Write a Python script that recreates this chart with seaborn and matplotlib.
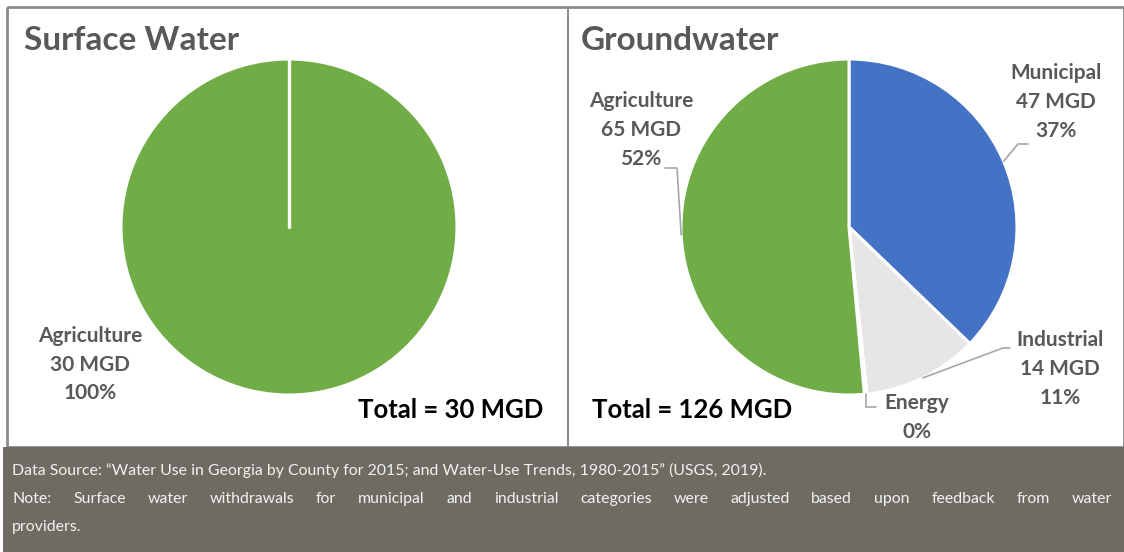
import matplotlib
matplotlib.use("Agg")
import matplotlib.pyplot as plt
import seaborn as sns
import numpy as np

sns.set_theme(style="white")
plt.rcParams['font.family'] = ['Lato', 'DejaVu Sans']

# ---------------- data ----------------
surface_categories = ["Agriculture"]
surface_values = [30]
surface_pct_labels = ["100%"]

ground_categories = ["Municipal", "Industrial", "Energy", "Agriculture"]
ground_values = [47, 14, 0.3, 65]
ground_mgd_labels = ["47 MGD", "14 MGD", None, "65 MGD"]
ground_pct_labels = ["37%", "11%", "0%", "52%"]

colors = {"Agriculture": "#70ad47", "Municipal": "#4472c4",
          "Industrial": "#e7e6e6", "Energy": "#a5a5a5"}

titles = ["Surface Water", "Groundwater"]
totals = ["Total = 30 MGD", "Total = 126 MGD"]
source_line = ("Data Source: \u201cWater Use in Georgia by County for 2015; and "
               "Water-Use Trends, 1980-2015\u201d (USGS, 2019).")
note_line = ("Note: Surface water withdrawals for municipal and industrial "
             "categories were adjusted based upon feedback from water")
note_line2 = "providers."

# ---------------- layout ----------------
W, H = 1124, 552
DPI = 100
fig = plt.figure(figsize=(W / DPI, H / DPI), dpi=DPI)
fig.patch.set_facecolor("white")

R = 168
centers = [(289, 227), (849, 227)]
START = 90


def pie_axes(cx, cy):
    ax = fig.add_axes([(cx - R) / W, (H - cy - R) / H, 2 * R / W, 2 * R / H])
    ax.set_axis_off()
    return ax


# surface pie
ax1 = pie_axes(*centers[0])
ax1.pie(surface_values, colors=[colors[c] for c in surface_categories],
        startangle=START, counterclock=False, radius=1,
        wedgeprops=dict(edgecolor="white", linewidth=2.2))
a0 = np.deg2rad(START)
ax1.plot([0, np.cos(a0)], [0, np.sin(a0)], color="white", lw=2.4, solid_capstyle="round")
ax1.set_xlim(-1, 1); ax1.set_ylim(-1, 1)

# groundwater pie
ax2 = pie_axes(*centers[1])
ax2.pie(ground_values, colors=[colors[c] for c in ground_categories],
        startangle=START, counterclock=False, radius=1,
        wedgeprops=dict(edgecolor="white", linewidth=2.2))
ax2.set_xlim(-1, 1); ax2.set_ylim(-1, 1)

# overlay in pixel coordinates
ov = fig.add_axes([0, 0, 1, 1], zorder=5)
ov.set_xlim(0, W); ov.set_ylim(H, 0)
ov.set_axis_off()
ov.patch.set_alpha(0)

border_c = "#8c8c8c"
ov.plot([7, W, W, 7, 7], [7, 7, 447, 447, 7], color=border_c, lw=2, solid_capstyle="butt")
ov.plot([568, 568], [7, 447], color=border_c, lw=1.5)

ov.add_patch(plt.Rectangle((3, 447), W - 3, H - 447, facecolor="#6e6b63",
                           edgecolor="none", zorder=2))

title_c = "#595959"
ov.text(24, 40, titles[0], fontsize=24, fontweight="bold", color=title_c, va="center", ha="left")
ov.text(581, 40, titles[1], fontsize=24, fontweight="bold", color=title_c, va="center", ha="left")

ov.text(543, 410, totals[0], fontsize=18.5, fontweight="bold", color="black", va="center", ha="right")
ov.text(592, 410, totals[1], fontsize=18.5, fontweight="bold", color="black", va="center", ha="left")

lab_fs = 15


def label(x, ys, lines):
    for y, s in zip(ys, lines):
        ov.text(x, y, s, fontsize=lab_fs, fontweight="bold", color=title_c,
                ha="center", va="center")


label(90, [336, 365, 393],
      [surface_categories[0], f"{surface_values[0]} MGD", surface_pct_labels[0]])

cx, cy = centers[1]
total = sum(ground_values)
cum = 0
mids = []
for v in ground_values:
    a = START - (cum + v / 2) / total * 360
    mids.append(np.deg2rad(a))
    cum += v


def edge(i):
    return cx + R * np.cos(mids[i]), cy - R * np.sin(mids[i])


leader_c = "#a6a6a6"
routes = {
    0: [(1018, 144), (1028, 144)],
    1: [(1003, 348), (1010, 348)],
    2: [None, (876, 407)],
    3: [(677, 168), (665, 168)],
}
for i, pts in routes.items():
    ex, ey = edge(i)
    if pts[0] is None:
        pts = [(ex, pts[1][1]), pts[1]]
    xs = [ex] + [p[0] for p in pts]
    ys = [ey] + [p[1] for p in pts]
    ov.plot(xs, ys, color=leader_c, lw=1.2)

label(1056, [73, 102, 131], [ground_categories[0], ground_mgd_labels[0], ground_pct_labels[0]])
label(1060, [340, 369, 398], [ground_categories[1], ground_mgd_labels[1], ground_pct_labels[1]])
label(917, [403, 432], [ground_categories[2], ground_pct_labels[2]])
label(641, [101, 130, 159], [ground_categories[3], ground_mgd_labels[3], ground_pct_labels[3]])

# footer text (condensed face if available), sized so line 1 spans ~753 px
foot_c = "#f2f2f2"
foot_family = ['Liberation Sans Narrow', 'Lato', 'DejaVu Sans']
renderer = fig.canvas.get_renderer()
probe = ov.text(0, 0, source_line, fontsize=12, family=foot_family)
pw = probe.get_window_extent(renderer).width
probe.remove()
foot_fs = min(14.5, 12 * 753 / pw)

ov.text(12, 470, source_line, fontsize=foot_fs, family=foot_family, color=foot_c,
        va="center", ha="left", zorder=3)
ov.text(12, 527, note_line2, fontsize=foot_fs, family=foot_family, color=foot_c,
        va="center", ha="left", zorder=3)

words = note_line.split(" ")
tmp = [ov.text(0, 0, w, fontsize=foot_fs, family=foot_family) for w in words]
widths = [t.get_window_extent(renderer).width for t in tmp]
for t in tmp:
    t.remove()
x0, x1 = 12, 1112
gap = (x1 - x0 - sum(widths)) / (len(words) - 1)
x = x0
for w, wd in zip(words, widths):
    ov.text(x, 499, w, fontsize=foot_fs, family=foot_family, color=foot_c,
            va="center", ha="left", zorder=3)
    x += wd + gap

fig.savefig("out.png", dpi=DPI)
